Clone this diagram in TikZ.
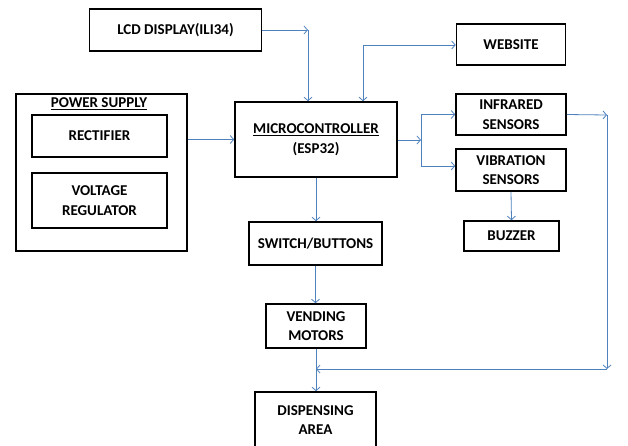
\documentclass[tikz,border=0pt]{standalone}
\usepackage{fontspec}
\setmainfont{Carlito}
\usetikzlibrary{arrows.meta}
\definecolor{lineblue}{RGB}{79,129,189}
\begin{document}
\begin{tikzpicture}[x=1pt,y=-1pt,
  box/.style={draw=black,line width=1.6pt,align=center,inner sep=0pt,
    font=\fontsize{15}{19.5}\selectfont\bfseries},
  arr/.style={draw=lineblue,line width=0.8pt,-{Straight Barb[length=3.5pt,width=8pt]}},
  ln/.style={draw=lineblue,line width=0.8pt}]
\useasboundingbox (0,0) rectangle (628,445);
\newcommand{\bx}[6]{\node[box,minimum width=#4pt,minimum height=#5pt] (#1) at (#2,#3) {#6};}
\bx{lcd}{175.5}{30}{172}{42}{LCD DISPLAY(ILI34)}
\bx{web}{511}{44.5}{109}{41}{WEBSITE}
\node[draw=black,line width=1.6pt,minimum width=171pt,minimum height=157pt,inner sep=0pt] (ps) at (101.5,172.5) {};
\node[font=\fontsize{15}{19.5}\selectfont\bfseries,inner sep=0pt] (pst) at (99,104) {\underline{POWER SUPPLY}};
\bx{rect}{99.5}{136}{135}{42}{RECTIFIER}
\bx{volt}{99.5}{200.5}{135}{55}{VOLTAGE\\REGULATOR}
\bx{mcu}{316}{139.5}{162}{75}{\underline{MICROCONTROLLER}\\(ESP32)}
\bx{ir}{511}{114.5}{110}{41}{INFRARED\\SENSORS}
\bx{vib}{511}{170}{110}{42}{VIBRATION\\SENSORS}
\bx{buz}{511.5}{236}{95}{30}{BUZZER}
\bx{sw}{315.5}{243.5}{133}{43}{SWITCH/BUTTONS}
\bx{vend}{316}{326}{100}{44}{VENDING\\MOTORS}
\bx{disp}{315.5}{420}{121}{56}{DISPENSING\\AREA}
\coordinate (c1) at (308,30);
\coordinate (c2) at (363,45);
\coordinate (b) at (421,140);
\coordinate (c3) at (607,115);
\coordinate (c4) at (607,369);
\draw[arr] (lcd.east) -- (c1);
\draw[arr] (c1) -- (c1 |- mcu.north);
\draw[arr] (c2) -- (c2 -| web.west);
\draw[arr] (c2) -- (c2 |- mcu.north);
\draw[arr] (ps.east |- mcu.west) -- (mcu.west);
\draw[arr] (mcu.east |- b) -- (b);
\draw[arr] (b) |- (ir.west);
\draw[arr] (b) |- ([yshift=4pt]vib.west);
\draw[arr] (ir.east) -- (c3);
\draw[arr] (c3) -- (c4);
\draw[arr] (c4) -- (c4 -| vend.south);
\draw[arr] (vib.south) -- (buz.north);
\draw[arr] (mcu.south) -- (mcu.south |- sw.north);
\draw[arr] (sw.south) -- (sw.south |- vend.north);
\draw[arr] (vend.south) -- (vend.south |- disp.north);
\end{tikzpicture}
\end{document}
